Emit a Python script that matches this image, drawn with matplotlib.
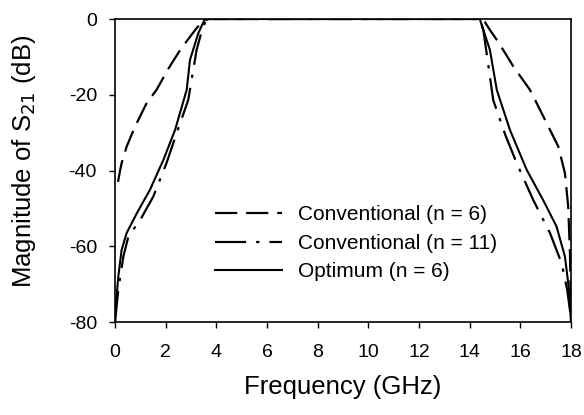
import matplotlib
matplotlib.use("Agg")
import matplotlib.pyplot as plt

plt.rcParams['font.family'] = ['Liberation Sans', 'DejaVu Sans']
plt.rcParams['axes.unicode_minus'] = False

# Conventional (n = 6)
f_conv6 = [0.12, 0.2, 0.26, 0.46, 0.79, 1.25, 1.64, 2.1, 2.57, 2.96, 3.2, 3.47, 3.7,
           9.0, 14.35, 14.6, 14.8, 15.07, 15.4, 15.73, 16.05, 16.38, 17.04, 17.5, 17.76,
           17.89, 17.96, 18.0]
db_conv6 = [-43, -40, -38.1, -33.7, -28.4, -22.2, -18.7, -13.2, -8.2, -4.7, -2.6, -0.5, 0,
            0, 0, -0.8, -2.9, -5.5, -9.0, -12.6, -15.6, -18.7, -27.5, -33.7, -40.7,
            -49.5, -62, -80]

# Conventional (n = 11)
f_conv11 = [0.0, 0.13, 0.33, 0.53, 1.0, 1.51, 2.03, 2.43, 2.89, 3.22, 3.45, 3.62,
            9.0, 14.4, 14.54, 14.93, 15.4, 15.86, 16.51, 17.17, 17.63, 17.85, 17.96, 18.0]
db_conv11 = [-80, -71.5, -62.7, -57.4, -53, -46.9, -38.1, -30.2, -21.4, -8.2, -2.5, 0,
             0, 0, -2.9, -21.4, -30.5, -38.1, -47.8, -56.5, -64.5, -71.5, -77, -80]

# Optimum (n = 6)
f_opt6 = [0.0, 0.04, 0.13, 0.26, 0.46, 0.86, 1.38, 1.91, 2.37, 2.83, 2.96, 3.29, 3.55,
          9.0, 14.4, 14.8, 15.07, 15.59, 16.25, 16.9, 17.43, 17.76, 17.89, 17.97, 18.0]
db_opt6 = [-80, -75, -68, -61, -56.5, -51.3, -45.1, -37.2, -29.3, -18.7, -10.8, -3.7, 0,
           0, 0, -8.2, -18.7, -29.3, -39.8, -47.8, -54.8, -62.7, -69.7, -76, -80]

labels = ['Conventional (n = 6)', 'Conventional (n = 11)', 'Optimum (n = 6)']
xticks = [0, 2, 4, 6, 8, 10, 12, 14, 16, 18]
yticks = [-80, -60, -40, -20, 0]

fig = plt.figure(figsize=(5.84, 4.15), dpi=100)
ax = fig.add_axes([115/584, 1-322/415, 456/584, 303/415])

ax.plot(f_conv6, db_conv6, color='black', lw=1.6, dashes=(10, 4), label=labels[0])
ax.plot(f_conv11, db_conv11, color='black', lw=1.6, dashes=(14, 4.5, 1.5, 4.5), label=labels[1])
ax.plot(f_opt6, db_opt6, color='black', lw=1.5, label=labels[2])

ax.set_xlim(0, 18)
ax.set_ylim(-80, 0)
ax.set_xticks(xticks)
ax.set_yticks(yticks)
ax.tick_params(direction='out', length=4, width=1, labelsize=14)
ax.tick_params(axis='x', pad=12)
ax.tick_params(axis='y', pad=9)
for s in ax.spines.values():
    s.set_linewidth(1.2)

ax.set_xlabel('Frequency (GHz)', fontsize=18.5, labelpad=10)
ax.set_ylabel('Magnitude of S$_{21}$ (dB)', fontsize=18.5)
ax.yaxis.set_label_coords(-0.169, 0.531)

leg = ax.legend(loc='upper left', bbox_to_anchor=(205/584, 1-195/415),
                bbox_transform=fig.transFigure, frameon=False, fontsize=15,
                handlelength=3.2, handletextpad=0.75, labelspacing=0.45, borderpad=0)

fig.savefig('out.png', dpi=100)
